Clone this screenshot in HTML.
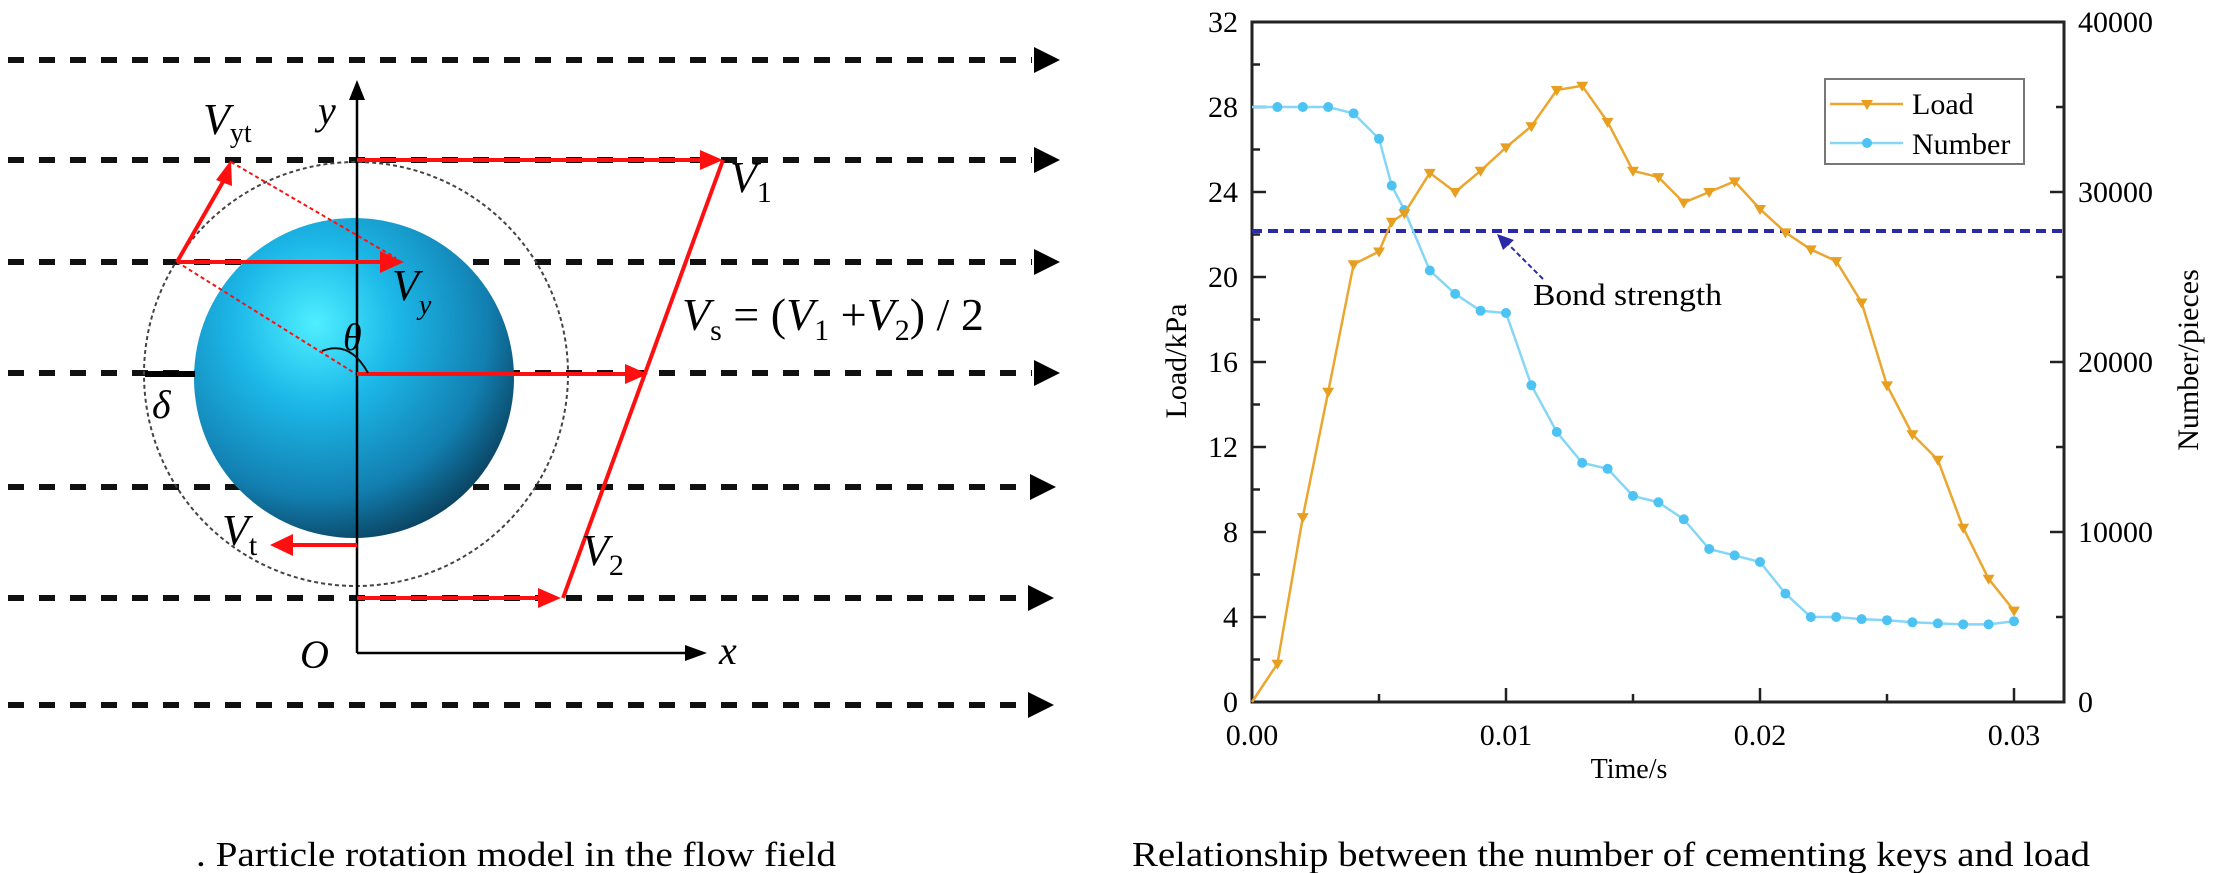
<!DOCTYPE html>
<html><head><meta charset="utf-8"><style>
html,body{margin:0;padding:0;background:#fff;}
svg{display:block;}
text{font-family:"Liberation Serif",serif;}
</style></head><body>
<svg width="2213" height="873" viewBox="0 0 2213 873" xmlns="http://www.w3.org/2000/svg">
<defs>
<radialGradient id="sph" cx="0.38" cy="0.33" r="0.72">
<stop offset="0" stop-color="#4fefff"/>
<stop offset="0.35" stop-color="#1cb8e8"/>
<stop offset="0.75" stop-color="#127fb0"/>
<stop offset="1" stop-color="#0a3f5c"/>
</radialGradient>
</defs>
<!-- flow lines -->
<g stroke="#111" stroke-width="6" stroke-dasharray="16 15">
<line x1="8" y1="60" x2="1032" y2="60"/>
<line x1="8" y1="160" x2="1032" y2="160"/>
<line x1="8" y1="262" x2="1032" y2="262"/>
<line x1="8" y1="373" x2="1032" y2="373"/>
<line x1="8" y1="487" x2="1030" y2="487"/>
<line x1="8" y1="598" x2="1028" y2="598"/>
<line x1="8" y1="705" x2="1028" y2="705"/>
</g>
<g fill="#000">
<polygon points="1034,47 1060,60 1034,73"/>
<polygon points="1034,147 1060,160 1034,173"/>
<polygon points="1034,249 1060,262 1034,275"/>
<polygon points="1034,360 1060,373 1034,386"/>
<polygon points="1030,474 1056,487 1030,500"/>
<polygon points="1028,585 1054,598 1028,611"/>
<polygon points="1028,692 1054,705 1028,718"/>
</g>
<!-- sphere -->
<circle cx="356" cy="374" r="212" fill="none" stroke="#444" stroke-width="2" stroke-dasharray="4 3"/>
<circle cx="354" cy="378" r="160" fill="url(#sph)"/>
<line x1="145" y1="374" x2="195" y2="374" stroke="#000" stroke-width="6"/>
<text x="152" y="418" font-size="40" font-style="italic">δ</text>
<!-- axes -->
<line x1="357" y1="96" x2="357" y2="653" stroke="#000" stroke-width="2.5"/>
<polygon points="349,100 357,80 365,100" fill="#000"/>
<line x1="357" y1="653" x2="690" y2="653" stroke="#000" stroke-width="2.5"/>
<polygon points="685,645 707,653 685,661" fill="#000"/>
<text x="318" y="124" font-size="40" font-style="italic">y</text>
<text x="719" y="664" font-size="40" font-style="italic">x</text>
<text x="300" y="668" font-size="40" font-style="italic">O</text>
<!-- red vectors -->
<g stroke="#ff1010" stroke-width="4" fill="none">
<line x1="357" y1="160" x2="705" y2="160"/>
<line x1="723" y1="160" x2="563" y2="598"/>
<line x1="357" y1="374" x2="628" y2="374"/>
<line x1="357" y1="598" x2="542" y2="598"/>
<line x1="177" y1="262" x2="385" y2="262"/>
<line x1="177" y1="262" x2="224" y2="180"/>
<line x1="357" y1="545" x2="290" y2="545"/>
</g>
<g stroke="#ff1010" stroke-width="2" stroke-dasharray="4 3" fill="none">
<line x1="231" y1="162" x2="396" y2="258"/>
<line x1="177" y1="262" x2="356" y2="374"/>
</g>
<g fill="#ff1010">
<polygon points="700,150 723,160 700,170"/>
<polygon points="625,364 648,374 625,384"/>
<polygon points="538,588 561,598 538,608"/>
<polygon points="380,251 404,262 380,273"/>
<polygon points="216,180 231,160 232,186"/>
<polygon points="293,534 270,545 293,556"/>
</g>
<path d="M322,351 Q350,340 368,373" stroke="#111" stroke-width="2" fill="none"/>
<!-- diagram labels -->
<g font-size="44" font-style="italic">
<text x="203" y="134">V<tspan font-size="28" font-style="normal" dy="8">yt</tspan></text>
<text x="392" y="300">V<tspan font-size="28" dy="14">y</tspan></text>
<text x="343" y="350" font-size="38">θ</text>
<text x="730" y="192">V<tspan font-size="30" font-style="normal" dy="10">1</tspan></text>
<text x="582" y="565">V<tspan font-size="30" font-style="normal" dy="10">2</tspan></text>
<text x="222" y="545">V<tspan font-size="30" font-style="normal" dy="10">t</tspan></text>
<text x="682" y="330" font-size="46">V<tspan font-size="30" font-style="normal" dy="10">s</tspan><tspan font-style="normal" dy="-10"> = (</tspan>V<tspan font-size="30" font-style="normal" dy="10">1</tspan><tspan font-style="normal" dy="-10"> +</tspan>V<tspan font-size="30" font-style="normal" dy="10">2</tspan><tspan font-style="normal" dy="-10">) / 2</tspan></text>
</g>
<text x="196" y="866" font-size="35" textLength="640" lengthAdjust="spacingAndGlyphs">. Particle rotation model in the flow field</text>

<!-- chart -->
<rect x="1252" y="22" width="812" height="680" fill="none" stroke="#222" stroke-width="3"/>
<g stroke="#222" stroke-width="2.5">
<line x1="1252" y1="22" x2="1266" y2="22"/><line x1="1252" y1="64.5" x2="1260" y2="64.5"/>
<line x1="1252" y1="107" x2="1266" y2="107"/><line x1="1252" y1="149.5" x2="1260" y2="149.5"/>
<line x1="1252" y1="192" x2="1266" y2="192"/><line x1="1252" y1="234.5" x2="1260" y2="234.5"/>
<line x1="1252" y1="277" x2="1266" y2="277"/><line x1="1252" y1="319.5" x2="1260" y2="319.5"/>
<line x1="1252" y1="362" x2="1266" y2="362"/><line x1="1252" y1="404.5" x2="1260" y2="404.5"/>
<line x1="1252" y1="447" x2="1266" y2="447"/><line x1="1252" y1="489.5" x2="1260" y2="489.5"/>
<line x1="1252" y1="532" x2="1266" y2="532"/><line x1="1252" y1="574.5" x2="1260" y2="574.5"/>
<line x1="1252" y1="617" x2="1266" y2="617"/><line x1="1252" y1="659.5" x2="1260" y2="659.5"/>
<line x1="2064" y1="22" x2="2050" y2="22"/><line x1="2064" y1="107" x2="2056" y2="107"/>
<line x1="2064" y1="192" x2="2050" y2="192"/><line x1="2064" y1="277" x2="2056" y2="277"/>
<line x1="2064" y1="362" x2="2050" y2="362"/><line x1="2064" y1="447" x2="2056" y2="447"/>
<line x1="2064" y1="532" x2="2050" y2="532"/><line x1="2064" y1="617" x2="2056" y2="617"/>
<line x1="1252" y1="702" x2="1252" y2="688"/><line x1="1379" y1="702" x2="1379" y2="694"/>
<line x1="1506" y1="702" x2="1506" y2="688"/><line x1="1633" y1="702" x2="1633" y2="694"/>
<line x1="1760" y1="702" x2="1760" y2="688"/><line x1="1887" y1="702" x2="1887" y2="694"/>
<line x1="2014" y1="702" x2="2014" y2="688"/>
</g>
<g font-size="30" text-anchor="end">
<text x="1238" y="32">32</text><text x="1238" y="117">28</text><text x="1238" y="202">24</text>
<text x="1238" y="287">20</text><text x="1238" y="372">16</text><text x="1238" y="457">12</text>
<text x="1238" y="542">8</text><text x="1238" y="627">4</text><text x="1238" y="712">0</text>
</g>
<g font-size="30">
<text x="2078" y="32">40000</text><text x="2078" y="202">30000</text><text x="2078" y="372">20000</text>
<text x="2078" y="542">10000</text><text x="2078" y="712">0</text>
</g>
<g font-size="30" text-anchor="middle">
<text x="1252" y="745">0.00</text><text x="1506" y="745">0.01</text>
<text x="1760" y="745">0.02</text><text x="2014" y="745">0.03</text>
<text x="1629" y="778" font-size="28">Time/s</text>
<text transform="translate(1186,361) rotate(-90)" font-size="30">Load/kPa</text>
<text transform="translate(2198,360) rotate(-90)" font-size="30">Number/pieces</text>
</g>
<!-- bond strength -->
<line x1="1252" y1="231" x2="2064" y2="231" stroke="#2a2aa8" stroke-width="4" stroke-dasharray="10 6"/>
<line x1="1543" y1="279" x2="1505" y2="241" stroke="#2a2aa8" stroke-width="2" stroke-dasharray="5 3"/>
<polygon points="1497,234 1514,240 1503,250" fill="#2a2aa8"/>
<text x="1533" y="305" font-size="31" textLength="189" lengthAdjust="spacingAndGlyphs">Bond strength</text>
<!-- Number series -->
<polyline fill="none" stroke="#86d6f8" stroke-width="2.5" points="1252,107 1277.4,107 1302.8,107 1328.2,107 1353.6,113.4 1379,138.8 1391.7,185.6 1404.4,210.1 1429.8,270.5 1455.2,293.9 1480.6,310.8 1506,313 1531.4,385.3 1556.8,432 1582.2,462.9 1607.6,468.8 1633,495.9 1658.4,502.3 1683.8,519.3 1709.2,549 1734.6,555.4 1760,562 1785.4,593.6 1810.8,617 1836.2,617 1861.6,619.1 1887,620.2 1912.4,622.3 1937.8,623.4 1963.2,624.4 1988.6,624.4 2014,621.2"/>
<g fill="#4cc3f2">
<circle cx="1277.4" cy="107" r="5"/><circle cx="1302.8" cy="107" r="5"/><circle cx="1328.2" cy="107" r="5"/><circle cx="1353.6" cy="113.4" r="5"/><circle cx="1379" cy="138.8" r="5"/><circle cx="1391.7" cy="185.6" r="5"/><circle cx="1404.4" cy="210.1" r="5"/><circle cx="1429.8" cy="270.5" r="5"/><circle cx="1455.2" cy="293.9" r="5"/><circle cx="1480.6" cy="310.8" r="5"/><circle cx="1506" cy="313" r="5"/><circle cx="1531.4" cy="385.3" r="5"/><circle cx="1556.8" cy="432" r="5"/><circle cx="1582.2" cy="462.9" r="5"/><circle cx="1607.6" cy="468.8" r="5"/><circle cx="1633" cy="495.9" r="5"/><circle cx="1658.4" cy="502.3" r="5"/><circle cx="1683.8" cy="519.3" r="5"/><circle cx="1709.2" cy="549" r="5"/><circle cx="1734.6" cy="555.4" r="5"/><circle cx="1760" cy="562" r="5"/><circle cx="1785.4" cy="593.6" r="5"/><circle cx="1810.8" cy="617" r="5"/><circle cx="1836.2" cy="617" r="5"/><circle cx="1861.6" cy="619.1" r="5"/><circle cx="1887" cy="620.2" r="5"/><circle cx="1912.4" cy="622.3" r="5"/><circle cx="1937.8" cy="623.4" r="5"/><circle cx="1963.2" cy="624.4" r="5"/><circle cx="1988.6" cy="624.4" r="5"/><circle cx="2014" cy="621.2" r="5"/>
</g>
<!-- Load series -->
<polyline id="ld" fill="none" stroke="#eba62f" stroke-width="2.5" points="1252,702 1277.4,663.8 1302.8,517.1 1328.2,391.8 1353.6,264.3 1379,251.5 1391.7,221.8 1404.4,213.3 1429.8,172.9 1455.2,192 1480.6,170.8 1506,147.4 1531.4,126.2 1556.8,90 1582.2,85.8 1607.6,121.9 1633,170.8 1658.4,177.1 1683.8,202.6 1709.2,192 1734.6,181.4 1760,209 1785.4,232.4 1810.8,249.4 1836.2,261.1 1861.6,302.5 1887,385.4 1912.4,434.3 1937.8,459.8 1963.2,527.8 1988.6,578.8 2014,610.6"/>
<g fill="#e89e1e">
<path d="M1271.4,659.8h12l-6,10z M1296.8,513.1h12l-6,10z M1322.2,387.8h12l-6,10z M1347.6,260.3h12l-6,10z M1373,247.5h12l-6,10z M1385.7,217.8h12l-6,10z M1398.4,209.3h12l-6,10z M1423.8,168.9h12l-6,10z M1449.2,188h12l-6,10z M1474.6,166.8h12l-6,10z M1500,143.4h12l-6,10z M1525.4,122.2h12l-6,10z M1550.8,86h12l-6,10z M1576.2,81.8h12l-6,10z M1601.6,117.9h12l-6,10z M1627,166.8h12l-6,10z M1652.4,173.1h12l-6,10z M1677.8,198.6h12l-6,10z M1703.2,188h12l-6,10z M1728.6,177.4h12l-6,10z M1754,205h12l-6,10z M1779.4,228.4h12l-6,10z M1804.8,245.4h12l-6,10z M1830.2,257.1h12l-6,10z M1855.6,298.5h12l-6,10z M1881,381.4h12l-6,10z M1906.4,430.3h12l-6,10z M1931.8,455.8h12l-6,10z M1957.2,523.8h12l-6,10z M1982.6,574.8h12l-6,10z M2008,606.6h12l-6,10z"/>
</g>
<!-- legend -->
<rect x="1825" y="79" width="199" height="85" fill="#fff" stroke="#777" stroke-width="2"/>
<line x1="1830" y1="104" x2="1903" y2="104" stroke="#eba62f" stroke-width="2.5"/>
<path d="M1861,100h12l-6,10z" fill="#e89e1e"/>
<line x1="1830" y1="143" x2="1903" y2="143" stroke="#86d6f8" stroke-width="2.5"/>
<circle cx="1867" cy="143" r="5" fill="#4cc3f2"/>
<text x="1912" y="114" font-size="30">Load</text>
<text x="1912" y="154" font-size="30">Number</text>
<text x="1132" y="866" font-size="35" textLength="958" lengthAdjust="spacingAndGlyphs">Relationship between the number of cementing keys and load</text>
</svg>
</body></html>
